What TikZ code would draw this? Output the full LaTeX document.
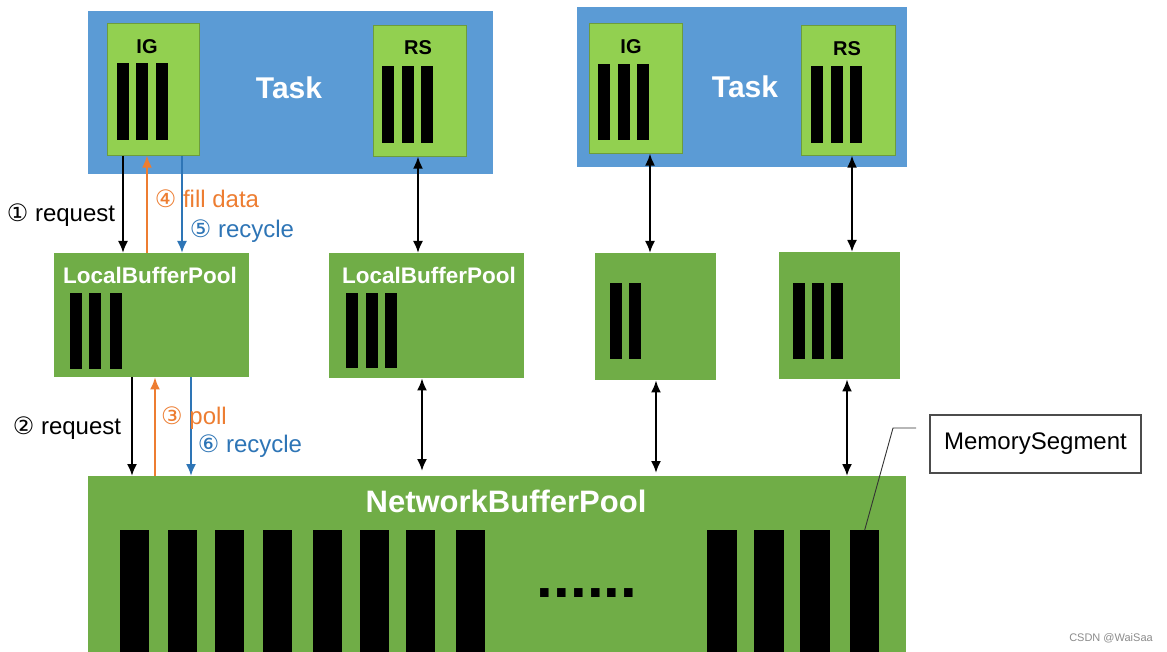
\documentclass[tikz,border=0pt]{standalone}
\usepackage{fontspec}
\setmainfont{Liberation Sans}
\newfontfamily\circfont{DejaVu Sans}
\usetikzlibrary{positioning,arrows.meta}
\definecolor{taskblue}{HTML}{5B9BD5}
\definecolor{lightgreen}{HTML}{92D050}
\definecolor{poolgreen}{HTML}{70AD47}
\definecolor{fillorange}{HTML}{ED7D31}
\definecolor{recycleblue}{HTML}{2E75B6}

\begin{document}
\begin{tikzpicture}[x=1pt, y=-1pt,
	blk/.style={rectangle, inner sep=0pt, anchor=north west},
	task/.style={blk, fill=taskblue},
	tname/.style={text=white, font=\fontsize{30}{35}\selectfont\bfseries},
	gate/.style={blk, fill=lightgreen, draw=lightgreen!75!black, line width=0.6pt},
	pool/.style={blk, fill=poolgreen},
	bar/.style={blk, fill=black, minimum width=12pt},
	gname/.style={font=\fontsize{20}{24}\selectfont\bfseries},
	pname/.style={text=white, font=\fontsize{22.5}{26}\selectfont\bfseries},
	lab/.style={font=\fontsize{24}{28}\selectfont},
	arr/.style={line width=2pt, -{Latex[length=12pt,width=10pt]}},
	darr/.style={line width=2pt, {Latex[length=12pt,width=10pt]}-{Latex[length=12pt,width=10pt]}}]
		\fill[white] (0,0) rectangle (1167,652);
		\useasboundingbox (0,0) rectangle (1167,652);

		% tasks
		\node[task, minimum width=405pt, minimum height=163pt] (taskA) at (88,11) {};
		\node[task, minimum width=330pt, minimum height=160pt] (taskB) at (577,7) {};
		\node[tname] (taskAname) at (289,88) {Task};
		\node[tname] (taskBname) at (745,87) {Task};
		\node[gate, minimum width=92pt, minimum height=132pt] (igA) at (107,23) {};
		\node[gate, minimum width=93pt, minimum height=131pt] (rsA) at (373,25) {};
		\node[gate, minimum width=93pt, minimum height=130pt] (igB) at (589,23) {};
		\node[gate, minimum width=94pt, minimum height=130pt] (rsB) at (801,25) {};
		\node[gname] (igAname) at (147,47) {IG};
		\node[gname] (rsAname) at (418,48) {RS};
		\node[gname] (igBname) at (631,47) {IG};
		\node[gname] (rsBname) at (847,49) {RS};
		\foreach \x [count=\i] in {117,136,156} \node[bar, minimum height=77pt] (igAbar\i) at (\x,63) {};
		\foreach \x [count=\i] in {382,402,421} \node[bar, minimum height=77pt] (rsAbar\i) at (\x,66) {};
		\foreach \x [count=\i] in {598,618,637} \node[bar, minimum height=76pt] (igBbar\i) at (\x,64) {};
		\foreach \x [count=\i] in {811,831,850} \node[bar, minimum height=77pt] (rsBbar\i) at (\x,66) {};

		% local pools
		\node[pool, minimum width=195pt, minimum height=124pt] (lbpA) at (54,253) {};
		\node[pool, minimum width=195pt, minimum height=125pt] (lbpB) at (329,253) {};
		\node[pool, minimum width=121pt, minimum height=127pt] (lbpC) at (595,253) {};
		\node[pool, minimum width=121pt, minimum height=127pt] (lbpD) at (779,252) {};
		\node[pname] (lbpAname) at (150,275) {LocalBufferPool};
		\node[pname] (lbpBname) at (429,275) {LocalBufferPool};
		\foreach \x [count=\i] in {70,89,110} \node[bar, minimum height=76pt] (lbpAbar\i) at (\x,293) {};
		\foreach \x [count=\i] in {346,366,385} \node[bar, minimum height=75pt] (lbpBbar\i) at (\x,293) {};
		\foreach \x [count=\i] in {610,629} \node[bar, minimum height=76pt] (lbpCbar\i) at (\x,283) {};
		\foreach \x [count=\i] in {793,812,831} \node[bar, minimum height=76pt] (lbpDbar\i) at (\x,283) {};

		% network pool
		\node[pool, minimum width=818pt, minimum height=176pt] (nbp) at (88,476) {};
		\node[pname, font=\fontsize{31}{36}\selectfont\bfseries] (nbpname) at (506,501) {NetworkBufferPool};
		\foreach \x [count=\i] in {120,168,215,263,313,360,406,456} \node[bar, minimum width=29pt, minimum height=122pt] (nbar\i) at (\x,530) {};
		\foreach \x [count=\i] in {707,754,800} \node[bar, minimum width=30pt, minimum height=122pt] (rbar\i) at (\x,530) {};
		\node[bar, minimum width=29pt, minimum height=122pt] (seg) at (850,530) {};
		\node[font=\fontsize{60}{62}\selectfont\bfseries] (dots) at (587,593) {......};

		\node[rectangle, draw=black!70, line width=1.2pt, fill=white, minimum width=211pt, minimum height=58pt, lab] (memo) at (1035.5,444) {MemorySegment};
		\coordinate (kink) at (893,428);
		\coordinate (tail) at (916,428);
		\draw[black!80, line width=0.9pt] (seg.north) -- (kink) -- (tail);

		% task <-> local pool
		\draw[arr] (igA.south -| 123,0) -- (lbpA.north -| 123,0);
		\draw[arr, fillorange] (lbpA.north -| 147,0) -- (igA.south -| 147,0);
		\draw[arr, recycleblue] (igA.south -| 182,0) -- (lbpA.north -| 182,0);
		\draw[darr] (rsA.south -| 418,0) -- (lbpB.north -| 418,0);
		\draw[darr] (igB.south -| 650,0) -- (lbpC.north -| 650,0);
		\draw[darr] (rsB.south -| 852,0) -- (lbpD.north -| 852,0);

		% local pool <-> network pool
		\draw[arr] (lbpA.south -| 132,0) -- (nbp.north -| 132,0);
		\draw[arr, fillorange] (nbp.north -| 155,0) -- (lbpA.south -| 155,0);
		\draw[arr, recycleblue] (lbpA.south -| 191,0) -- (nbp.north -| 191,0);
		\draw[darr, shorten >=5pt] (lbpB.south -| 422,0) -- (nbp.north -| 422,0);
		\draw[darr, shorten >=3pt] (lbpC.south -| 656,0) -- (nbp.north -| 656,0);
		\draw[darr] (lbpD.south -| 847,0) -- (nbp.north -| 847,0);

		\node[lab] (req1) at (61,215) {{\circfont ①} request};
		\node[lab, text=fillorange] (filldata) at (207,199) {{\circfont ④} fill data};
		\node[lab, text=recycleblue] (rec1) at (242,231) {{\circfont ⑤} recycle};
		\node[lab] (req2) at (67,428) {{\circfont ②} request};
		\node[lab, text=fillorange] (poll) at (194,418) {{\circfont ③} poll};
		\node[lab, text=recycleblue] (rec2) at (250,446) {{\circfont ⑥} recycle};

		\node[text=black!45, font=\fontsize{11}{13}\selectfont] (mark) at (1111,638) {CSDN @WaiSaa};
	\end{tikzpicture}
\end{document}
